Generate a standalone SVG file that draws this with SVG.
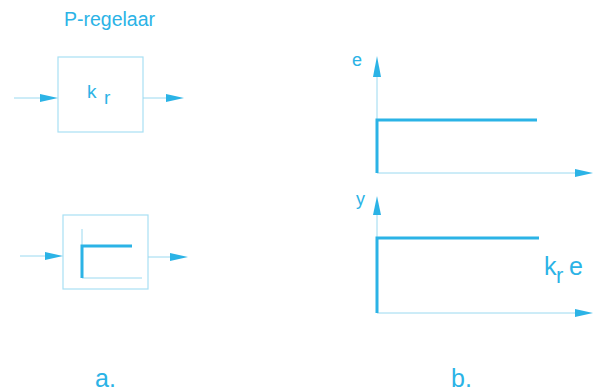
<svg xmlns="http://www.w3.org/2000/svg" width="596" height="391" viewBox="0 0 596 391">
<style>
.t{font-family:"Liberation Sans",Arial,sans-serif;fill:#2bb3e6}
.thin{stroke:#9ad9f0;stroke-width:1;fill:none}
.thick{stroke:#2bb3e6;stroke-width:3;fill:none}
.box{stroke:#a8e0f3;stroke-width:1.2;fill:none}
.ah{fill:#2bb3e6}
</style>
<rect width="596" height="391" fill="#fff"/>
<text class="t" x="64" y="26" font-size="19.5">P-regelaar</text>
<g id="block1">
<rect class="box" x="58" y="57" width="85" height="75"/>
<text class="t" x="87" y="98" font-size="19">k</text>
<text class="t" x="104" y="104" font-size="19">r</text>
</g>
<g id="block2">
<rect class="box" x="63" y="215" width="85" height="74"/>
<path class="thin" d="M82 229V278H142"/>
<path class="thick" d="M82 278V246H132"/>
</g>
<g id="graph-e">
<text class="t" x="352" y="66" font-size="18">e</text>
<path class="thin" d="M377 173V70M377 173H580"/>
<path class="thick" d="M377 173V120H537"/>
<polygon class="ah" points="377,56 373,77 381,77"/>
<polygon class="ah" points="593,173 575,169 575,177"/>
</g>
<g id="graph-y">
<text class="t" x="356" y="205" font-size="18">y</text>
<path class="thin" d="M377 313V210M377 313H580"/>
<path class="thick" d="M377 313V238H539"/>
<polygon class="ah" points="377,196 373,215 381,215"/>
<polygon class="ah" points="593,313 575,309 575,317"/>
<text class="t" x="544" y="275" font-size="25">k</text>
<text class="t" x="556" y="283" font-size="22">r</text>
<text class="t" x="569" y="275" font-size="25">e</text>
</g>
<g id="connectors">
<path class="thin" d="M14 98H44M143 98H170M20 256H47M148 257H172"/>
<polygon class="ah" points="58,98 40,94 40,102"/>
<polygon class="ah" points="184,98 166,94 166,102"/>
<polygon class="ah" points="63,256 45,252 45,260"/>
<polygon class="ah" points="188,257 170,253 170,261"/>
</g>
<text class="t" x="95" y="387" font-size="25">a.</text>
<text class="t" x="451" y="387" font-size="25">b.</text>
</svg>
